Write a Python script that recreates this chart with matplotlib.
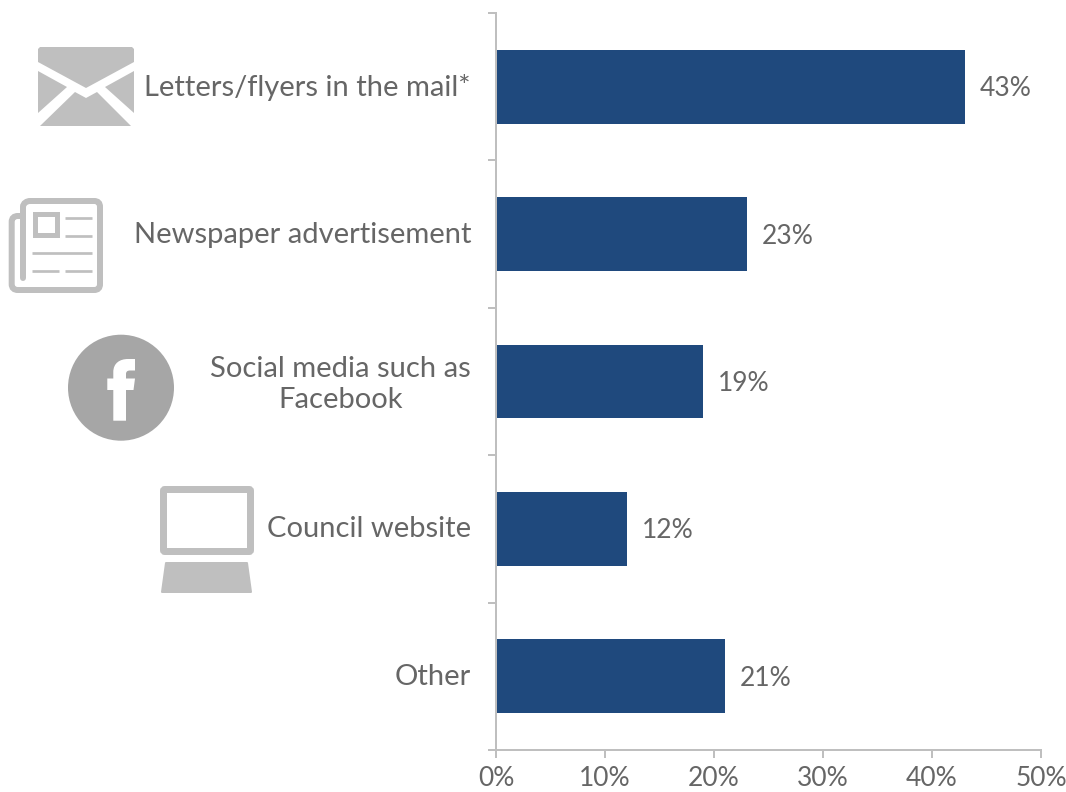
import matplotlib
matplotlib.use("Agg")
import matplotlib.pyplot as plt
from matplotlib.patches import Circle, PathPatch, Polygon, Rectangle, FancyBboxPatch
from matplotlib.path import Path
from matplotlib.ticker import FuncFormatter, MultipleLocator
from matplotlib.transforms import ScaledTranslation
import numpy as np

categories = ["Letters/flyers in the mail*", "Newspaper advertisement",
              "Social media such as\nFacebook", "Council website", "Other"]
percent = [43, 23, 19, 12, 21]
x_ticks = [0, 10, 20, 30, 40, 50]

BAR = "#1F497D"
TEXT = "#666666"
RULE = "#BFBFBF"
ICON = "#BFBFBF"
FB = "#A6A6A6"
W, H = 1066, 792
PX = 72 / 100  # points per pixel at dpi 100

plt.rcParams["font.family"] = ["Lato", "DejaVu Sans"]

fig = plt.figure(figsize=(W / 100, H / 100), dpi=100)
ax = fig.add_axes([496 / W, 1 - 750 / H, 545 / W, 737 / H])

pos = np.arange(len(categories))
ax.barh(pos, percent, height=0.5, color=BAR, zorder=1)
ax.set_xlim(0, 50)
ax.set_ylim(4.5, -0.5)

for spine in ("top", "right"):
    ax.spines[spine].set_visible(False)
for spine in ("left", "bottom"):
    ax.spines[spine].set_color(RULE)
    ax.spines[spine].set_linewidth(2 * PX)

ax.set_xticks(x_ticks)
ax.xaxis.set_major_formatter(FuncFormatter(lambda v, p: "%d%%" % v))
ax.tick_params(axis="x", length=8 * PX, width=2 * PX, color=RULE, labelcolor=TEXT,
               labelsize=19, pad=8 * PX)

# ticks sit on the band edges, labels on the band centres
ax.yaxis.set_major_locator(MultipleLocator(1, offset=0.5))
ax.set_yticks(pos, minor=True)
ax.set_yticklabels(categories, minor=True, ha="right", multialignment="center",
                   linespacing=1.25)
ax.tick_params(axis="y", which="major", length=8 * PX, width=2 * PX, color=RULE,
               labelleft=False)
ax.tick_params(axis="y", which="minor", length=0, labelcolor=TEXT, labelsize=21,
               pad=25 * PX)

# nudge category labels up a little
nudge = ScaledTranslation(0, 2 / 100, fig.dpi_scale_trans)
for lab in ax.get_yticklabels(minor=True):
    lab.set_transform(lab.get_transform() + nudge)

for i in range(len(percent)):
    ax.annotate("%d%%" % percent[i], (percent[i], pos[i]), xytext=(15 * PX, -2 * PX),
                textcoords="offset points", va="center", ha="left",
                color=TEXT, fontsize=19)

# icons, drawn on an overlay in pixel units
ov = fig.add_axes([0, 0, 1, 1])
ov.set_xlim(0, W)
ov.set_ylim(H, 0)
ov.axis("off")
ov.patch.set_alpha(0)

# envelope
for pts in ([(38, 49), (40, 47), (132, 47), (134, 49), (134, 62), (86, 88), (38, 62)],
            [(38, 71), (67, 87), (38, 113)],
            [(134, 71), (105, 87), (134, 113)],
            [(40, 126), (75, 92), (86, 98), (97, 92), (131, 126)]):
    ov.add_patch(Polygon(pts, closed=True, fc=ICON, ec="none"))

# newspaper
body = [(23, 278), (23, 207), (23, 203), (27, 201), (30, 201), (94, 201), (98, 201),
        (100, 203), (100, 207), (100, 284), (100, 288), (98, 290), (94, 290),
        (18, 290), (14, 290), (11.7, 288), (11.7, 284), (11.7, 222), (11.7, 218),
        (14, 216), (18, 216), (23, 216)]
codes = [Path.MOVETO, Path.LINETO, Path.CURVE4, Path.CURVE4, Path.CURVE4, Path.LINETO,
         Path.CURVE4, Path.CURVE4, Path.CURVE4, Path.LINETO, Path.CURVE4, Path.CURVE4,
         Path.CURVE4, Path.LINETO, Path.CURVE4, Path.CURVE4, Path.CURVE4, Path.LINETO,
         Path.CURVE4, Path.CURVE4, Path.CURVE4, Path.LINETO]
ov.add_patch(PathPatch(Path(body, codes), fc="none", ec=ICON, lw=6 * PX, capstyle="round"))
ov.add_patch(Rectangle((34.5, 213.5), 22, 21, fc="white", ec=ICON, lw=5 * PX))
for x0, x1, y in ((65, 92, 218), (65, 92, 236), (32, 92, 253), (32, 59, 271), (65, 92, 271)):
    ov.plot([x0, x1], [y, y], color=ICON, lw=2.7 * PX, solid_capstyle="butt")

# facebook badge
ov.add_patch(Circle((121, 387.7), 53, fc=FB, ec="none"))
f_pts = [(113.3, 420.7), (113.3, 390), (107.3, 390), (107.3, 378.5), (113.3, 378.5),
         (113.3, 372), (113.3, 363), (120, 359), (128, 359), (135, 359), (135, 370.5),
         (130, 370.5), (127, 370.5), (126, 372), (126, 374), (126, 378.5), (135, 378.5),
         (133.5, 390), (126, 390), (126, 420.7), (113.3, 420.7)]
f_codes = [Path.MOVETO] + [Path.LINETO] * 4 + [Path.LINETO, Path.CURVE4, Path.CURVE4, Path.CURVE4] \
    + [Path.LINETO, Path.LINETO, Path.LINETO, Path.CURVE4, Path.CURVE4, Path.CURVE4] \
    + [Path.LINETO] * 5 + [Path.CLOSEPOLY]
ov.add_patch(PathPatch(Path(f_pts, f_codes), fc="white", ec="none"))

# computer
ov.add_patch(FancyBboxPatch((163.5, 489.5), 87, 62, boxstyle="round,pad=0,rounding_size=1.5",
                            fc="white", ec=ICON, lw=7 * PX))
ov.add_patch(Polygon([(166, 563), (247, 563), (251, 592), (162, 592)], closed=True,
                     fc=ICON, ec=ICON, lw=2 * PX, joinstyle="round"))

plt.savefig("out.png", dpi=100)
